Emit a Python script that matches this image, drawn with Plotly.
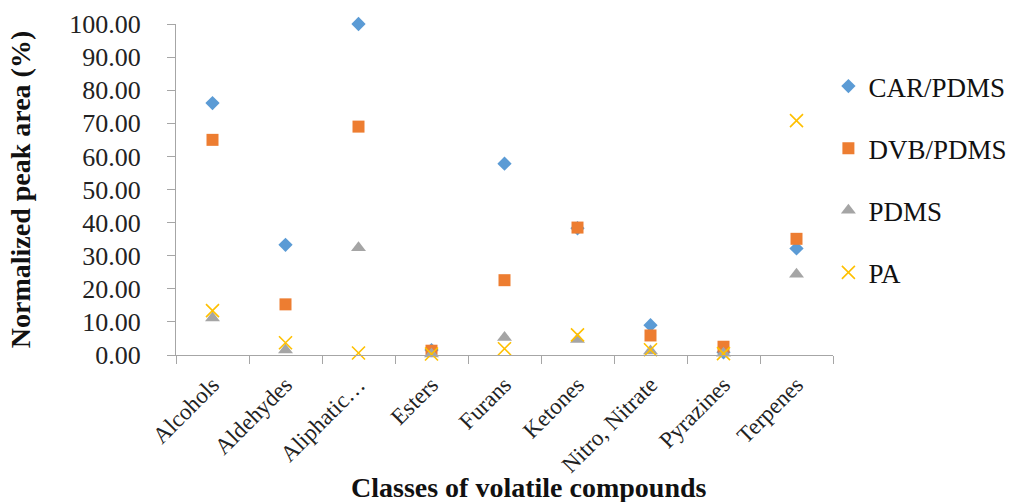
import plotly.graph_objects as go

categories = ["Alcohols", "Aldehydes", "Aliphatic…", "Esters", "Furans",
              "Ketones", "Nitro, Nitrate", "Pyrazines", "Terpenes"]
car_pdms = [76.1, 33.3, 100.0, 1.5, 57.8, 38.3, 9.0, 0.8, 32.2]
dvb_pdms = [65.0, 15.3, 69.0, 1.3, 22.6, 38.5, 5.9, 2.5, 35.1]
pdms = [11.2, 1.5, 32.4, 0.3, 5.3, 4.7, 1.2, 0.5, 24.4]
pa = [13.4, 3.7, 0.6, 0.3, 1.9, 6.1, 1.6, 0.4, 70.8]
y_ticks = [0, 10, 20, 30, 40, 50, 60, 70, 80, 90, 100]

serif = "Book Antiqua, Palatino Linotype, Palatino, Liberation Serif, serif"
axis_gray = "#a6a6a6"

series = [
    ("CAR/PDMS", car_pdms, dict(symbol="diamond", size=11, color="#5b9bd5")),
    ("DVB/PDMS", dvb_pdms, dict(symbol="square", size=12, color="#ed7d31")),
    ("PDMS", pdms, dict(symbol="triangle-up", size=13, color="#a5a5a5")),
    ("PA", pa, dict(symbol="x-thin", size=13, color="#ffc000",
                    line=dict(color="#ffc000", width=1.6))),
]

fig = go.Figure()
for i, (name, values, marker) in enumerate(series):
    fig.add_trace(go.Scatter(
        x=categories, y=values, name=name, mode="markers",
        marker=marker, legendgroup=f"g{i}", cliponaxis=False,
    ))

fig.update_layout(
    width=1011, height=502,
    margin=dict(l=176, r=178, t=24, b=147, autoexpand=False),
    plot_bgcolor="white", paper_bgcolor="white",
    font=dict(family=serif, color="#1a1a1a"),
    showlegend=True,
    legend=dict(
        x=0.993, y=0.885, xanchor="left", yanchor="top",
        font=dict(family=serif, size=27, color="#111111"),
        tracegroupgap=24, traceorder="grouped",
        itemwidth=30,
    ),
    annotations=[dict(
        text="<b>Classes of volatile compounds</b>",
        xref="paper", yref="paper", x=0.537, y=-0.40,
        xanchor="center", yanchor="middle", showarrow=False,
        font=dict(family=serif, size=28, color="#111111"),
    )],
)

fig.update_xaxes(
    type="category", range=[-0.5, 8.5],
    showline=True, linecolor=axis_gray, linewidth=1.3,
    ticks="outside", tickson="boundaries", ticklen=8, tickcolor=axis_gray,
    tickangle=-45, tickfont=dict(family=serif, size=23, color="#222222"),
    ticklabelstandoff=6,
    showgrid=False, zeroline=False,
)

fig.update_yaxes(
    range=[0, 100], tickvals=y_ticks,
    ticktext=[f"{v:.2f}" for v in y_ticks],
    showline=True, linecolor=axis_gray, linewidth=1.3,
    ticks="outside", ticklen=8, tickcolor=axis_gray,
    tickfont=dict(family=serif, size=26, color="#222222"),
    ticklabelstandoff=21,
    showgrid=False, zeroline=False,
    title=dict(text="<b>Normalized peak area (%)</b>", standoff=30,
               font=dict(family=serif, size=28, color="#111111")),
)

fig.write_html("out.html")
